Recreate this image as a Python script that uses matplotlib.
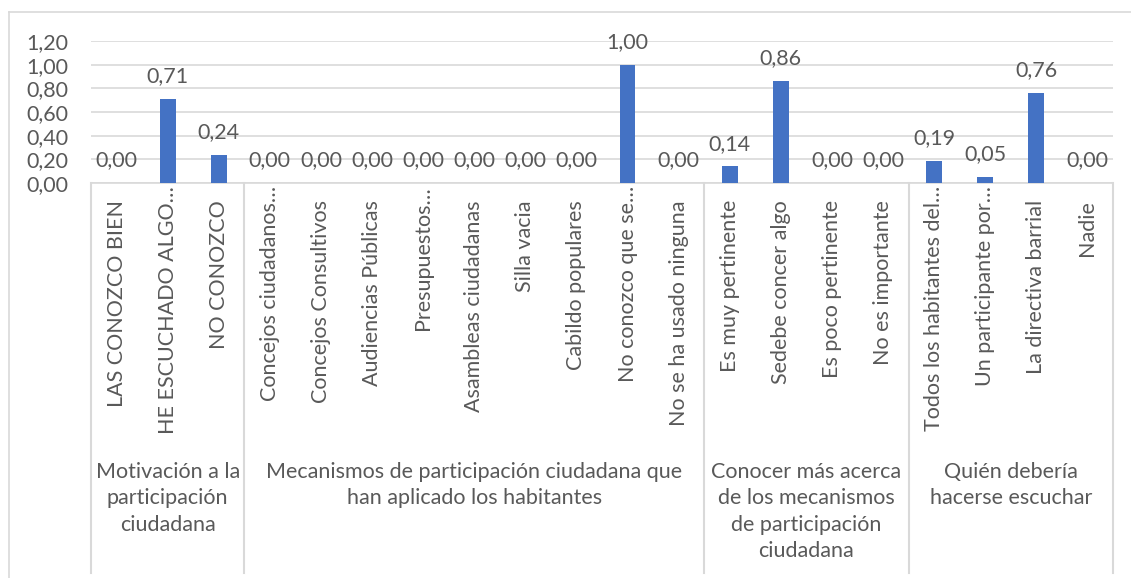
import numpy as np
import matplotlib
matplotlib.use("Agg")
import matplotlib.pyplot as plt
from matplotlib.transforms import blended_transform_factory
from matplotlib.lines import Line2D

# data
categories = [
    "LAS CONOZCO BIEN", "HE ESCUCHADO ALGO…", "NO CONOZCO",
    "Concejos ciudadanos…", "Concejos Consultivos", "Audiencias Públicas",
    "Presupuestos…", "Asambleas ciudadanas", "Silla vacia", "Cabildo populares",
    "No conozco que se…", "No se ha usado ninguna",
    "Es muy pertinente", "Sedebe concer algo", "Es poco pertinente", "No es importante",
    "Todos los habitantes del…", "Un participante por…", "La directiva barrial", "Nadie",
]
values = [0.00, 0.71, 0.24,
          0.00, 0.00, 0.00, 0.00, 0.00, 0.00, 0.00, 1.00, 0.00,
          0.14, 0.86, 0.00, 0.00,
          0.19, 0.05, 0.76, 0.00]
groups = [
    "Motivación a la\nparticipación\nciudadana",
    "Mecanismos de participación ciudadana que\nhan aplicado los habitantes",
    "Conocer más acerca\nde los mecanismos\nde participación\nciudadana",
    "Quién debería\nhacerse escuchar",
]
group_sizes = [3, 9, 4, 4]
yticks = [0.0, 0.2, 0.4, 0.6, 0.8, 1.0, 1.2]

W, H = 1131, 578
TXT = "#595959"
GRID = "#D9D9D9"
BAR = "#4472C4"
FS = 15.5

plt.rcParams['font.family'] = ['Lato', 'DejaVu Sans']

fig = plt.figure(figsize=(W / 100, H / 100), dpi=100)
fig.patch.set_facecolor("white")

def fy(py):
    return 1 - py / H

# plot area in pixels: x 91..1113, y 41..183
ax = fig.add_axes([91 / W, fy(183), 1022 / W, 142 / H])
x = np.arange(len(categories))
ax.bar(x, values, width=0.31, color=BAR, zorder=3)
ax.set_xlim(-0.5, len(categories) - 0.5)
ax.set_ylim(0, 1.2)
ax.set_yticks(yticks)
ax.set_yticklabels([f"{t:.2f}".replace(".", ",") for t in yticks], fontsize=FS, color=TXT)
ax.grid(axis="y", color=GRID, lw=1.2)
ax.set_axisbelow(True)
ax.set_xticks([])
ax.tick_params(axis="y", length=0, pad=16)
for s in ["top", "right", "left"]:
    ax.spines[s].set_visible(False)
ax.spines["bottom"].set_color(GRID)
ax.spines["bottom"].set_linewidth(1.2)

# value labels
for i, v in enumerate(values):
    ax.annotate(f"{v:.2f}".replace(".", ","), (i, v), xytext=(0, 12),
                textcoords="offset points", ha="center", va="baseline",
                fontsize=FS, color=TXT)

# category labels (rotated)
tr = blended_transform_factory(ax.transData, fig.transFigure)
for i, lab in enumerate(categories):
    top = 186 if lab.endswith("…") else 200
    ax.text(i, fy(top), lab, transform=tr, rotation=90, ha="center", va="top",
            fontsize=FS, color=TXT, clip_on=False)

# group separators and labels
edges = np.concatenate([[0], np.cumsum(group_sizes)]) - 0.5
for e in edges:
    fig.add_artist(Line2D([e, e], [fy(183), fy(573)], transform=tr, color=GRID, lw=1.5))
for g, a, b in zip(groups, edges[:-1], edges[1:]):
    fig.text((a + b) / 2, fy(462), g, transform=tr, ha="center", va="top",
             multialignment="center", linespacing=1.4, fontsize=FS, color=TXT)

# chart border
fig.add_artist(Line2D([9 / W, 1], [fy(12), fy(12)], color=GRID, lw=1.2))
fig.add_artist(Line2D([9 / W, 9 / W], [fy(12), 0], color=GRID, lw=1.2))

fig.savefig("out.png", dpi=100)
